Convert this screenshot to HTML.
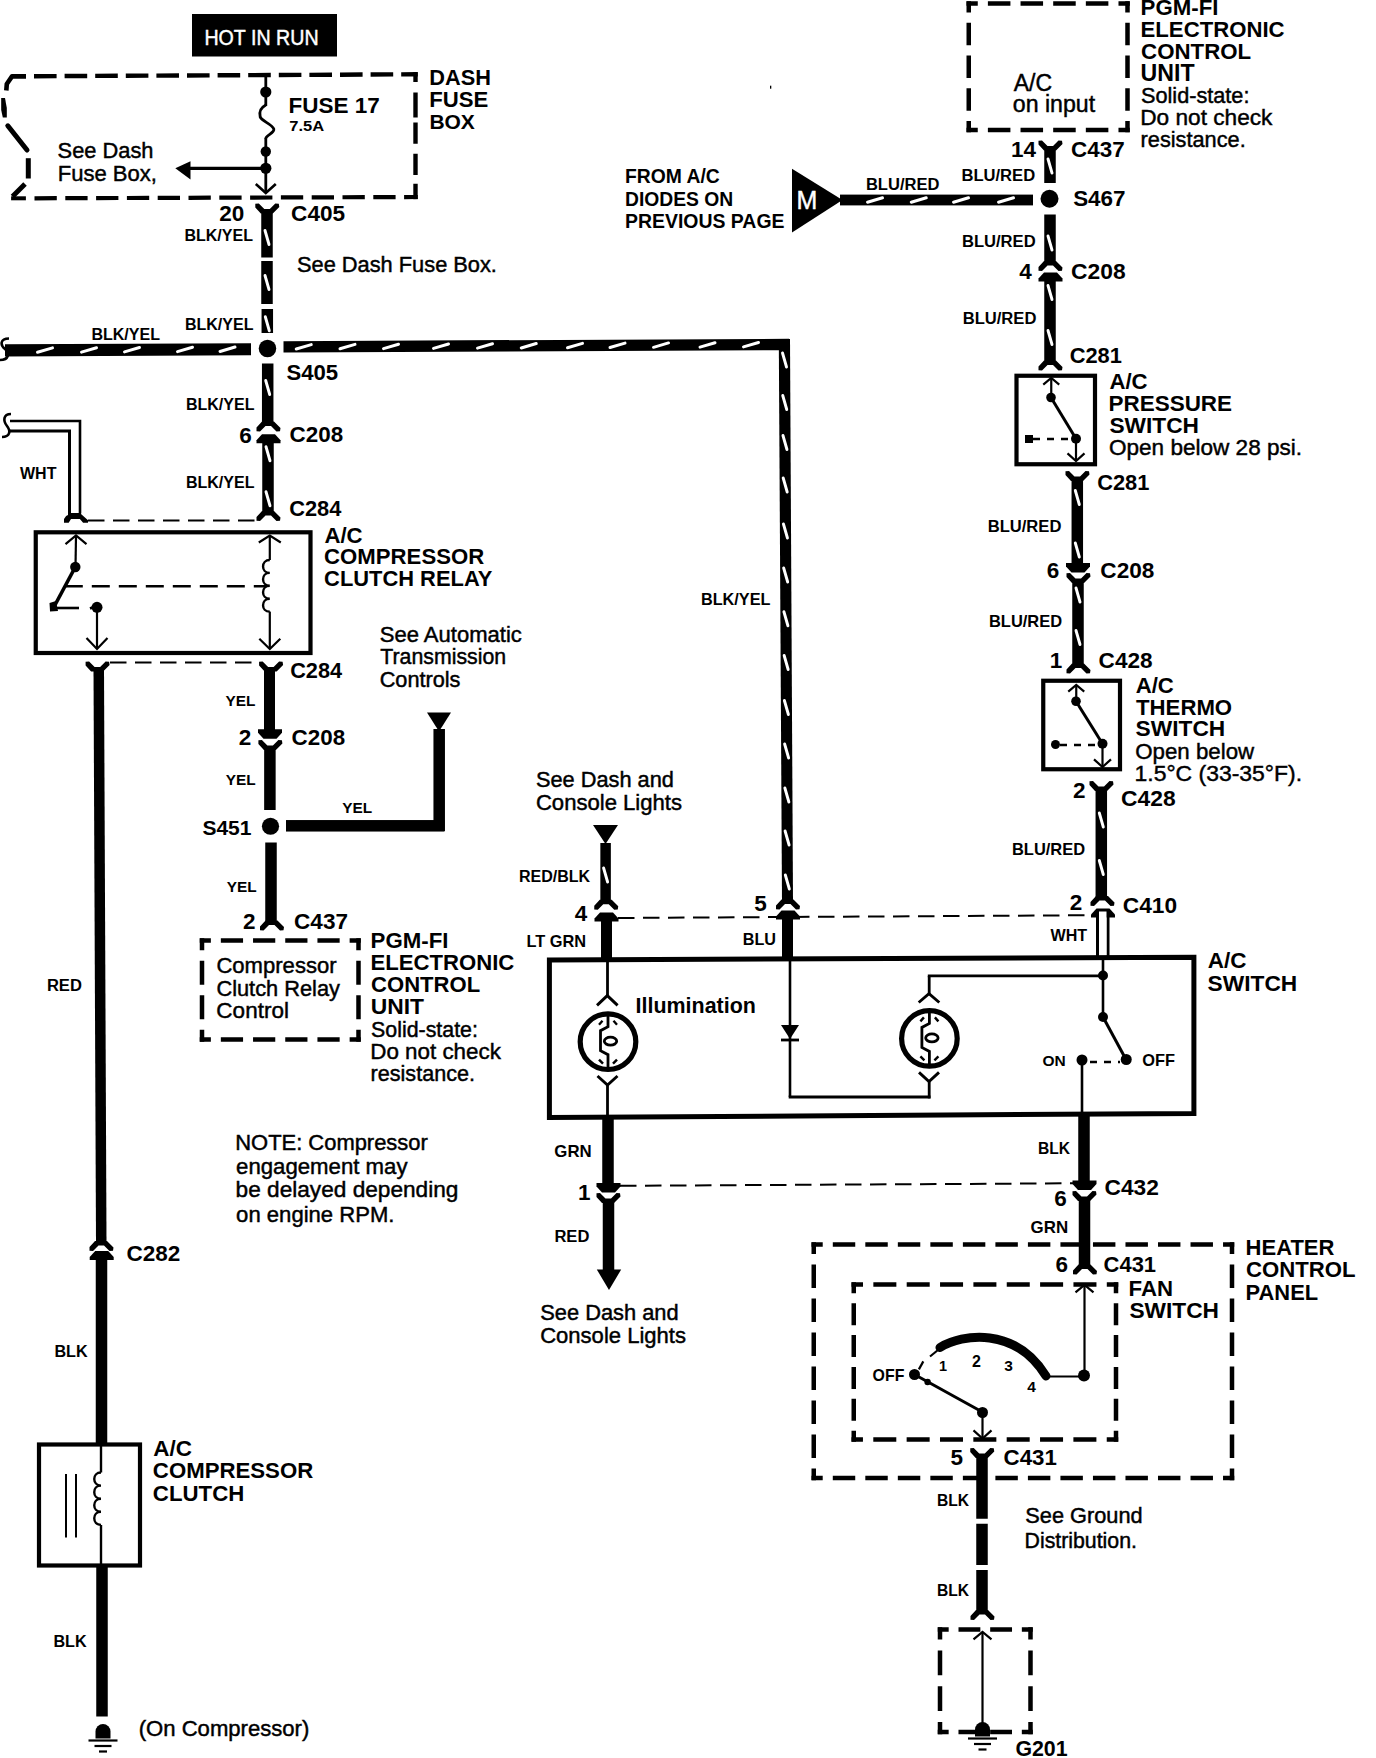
<!DOCTYPE html>
<html><head><meta charset="utf-8"><style>
html,body{margin:0;padding:0;background:#fff;}
body{width:1376px;height:1758px;overflow:hidden;}
svg{display:block;font-family:"Liberation Sans",sans-serif;}
</style></head><body>
<svg width="1376" height="1758" viewBox="0 0 1376 1758">
<rect width="1376" height="1758" fill="#fff"/>
<rect x="192" y="14" width="145" height="42.5" fill="#000"/>
<text x="204.43" y="45.3" font-size="21.98" font-weight="normal" fill="#fff" textLength="114.14" lengthAdjust="spacingAndGlyphs" stroke="#fff" stroke-width="0.45">HOT IN RUN</text>
<line x1="34" y1="76.2" x2="417.75" y2="74.3" stroke="#000" stroke-width="4.4" stroke-dasharray="22.6 8"/>
<line x1="415.5" y1="72.2" x2="415.5" y2="82" stroke="#000" stroke-width="4.4"/>
<line x1="415.5" y1="92.5" x2="415.5" y2="117.5" stroke="#000" stroke-width="4.4"/>
<line x1="415.5" y1="122.5" x2="415.5" y2="143.75" stroke="#000" stroke-width="4.4"/>
<line x1="415.5" y1="153.75" x2="415.5" y2="175" stroke="#000" stroke-width="4.4"/>
<line x1="415.5" y1="183.75" x2="415.5" y2="199.2" stroke="#000" stroke-width="4.4"/>
<line x1="34.5" y1="198.3" x2="417.75" y2="197" stroke="#000" stroke-width="4.2" stroke-dasharray="22.3 8.5"/>
<path d="M6.3 90.5 L6.8 84 L12 76.4 L26 76.4" fill="none" stroke="#000" stroke-width="4.6" stroke-linejoin="round"/>
<polygon points="1.2,98 5,98 6.8,108 6.8,117.5 2.8,117.5 1.2,110" fill="#000"/>
<line x1="7.8" y1="125.8" x2="27" y2="150" stroke="#000" stroke-width="5" stroke-linecap="round"/>
<line x1="28.3" y1="158.2" x2="28.3" y2="178.5" stroke="#000" stroke-width="5"/>
<path d="M25 184 L12.5 196.5" fill="none" stroke="#000" stroke-width="5"/>
<rect x="11.1" y="196.3" width="14.8" height="4" fill="#000"/>
<line x1="265.8" y1="76" x2="265.8" y2="106" stroke="#000" stroke-width="2.8"/>
<path d="M265.8 105 C260 108 259 112 260.2 117 C261.5 121 272 124 273.8 129 C274.8 133 266 135 265.8 138.5" fill="none" stroke="#000" stroke-width="2.8"/>
<line x1="265.8" y1="138" x2="265.8" y2="193" stroke="#000" stroke-width="2.8"/>
<circle cx="265.8" cy="92" r="5.6" fill="#000"/>
<circle cx="265.8" cy="151.5" r="5.2" fill="#000"/>
<circle cx="265.8" cy="168.3" r="5.6" fill="#000"/>
<line x1="265.8" y1="168.3" x2="189" y2="168.3" stroke="#000" stroke-width="3.2"/>
<polygon points="175.3,168.3 190.5,161.2 190.5,179.5" fill="#000"/>
<path d="M255.8 184 L265.8 193 L275.8 184" fill="none" stroke="#000" stroke-width="2.6"/>
<text x="288.54" y="112.8" font-size="22.48" font-weight="bold" fill="#000" textLength="91.22" lengthAdjust="spacingAndGlyphs">FUSE 17</text>
<text x="289.3" y="131.3" font-size="14.85" font-weight="bold" fill="#000" textLength="34.86" lengthAdjust="spacingAndGlyphs">7.5A</text>
<text x="429.34" y="85.3" font-size="21.74" font-weight="bold" fill="#000" textLength="61.6" lengthAdjust="spacingAndGlyphs">DASH</text>
<text x="429.31" y="107.05" font-size="22.12" font-weight="bold" fill="#000" textLength="59.01" lengthAdjust="spacingAndGlyphs">FUSE</text>
<text x="429.38" y="128.8" font-size="21" font-weight="bold" fill="#000" textLength="45.51" lengthAdjust="spacingAndGlyphs">BOX</text>
<text x="57.62" y="157.8" font-size="21.83" font-weight="normal" fill="#000" textLength="95.88" lengthAdjust="spacingAndGlyphs" stroke="#000" stroke-width="0.45">See Dash</text>
<text x="57.74" y="181.3" font-size="22.03" font-weight="normal" fill="#000" textLength="99.18" lengthAdjust="spacingAndGlyphs" stroke="#000" stroke-width="0.45">Fuse Box,</text>
<polygon points="260.8,213.5 255.3,207.5 255.3,203.7 258.8,203.5 264.3,209 269.8,209 275.3,203.5 278.8,203.7 279.3,207 272.8,213.5" fill="#000"/>
<text x="219.27" y="220.8" font-size="22.5" font-weight="bold" fill="#000">20</text>
<text x="291.1" y="220.8" font-size="22.58" font-weight="bold" fill="#000" textLength="53.98" lengthAdjust="spacingAndGlyphs">C405</text>
<rect x="261.25" y="212" width="11.5" height="45.5" fill="#000"/>
<line x1="265" y1="230.5" x2="269" y2="244.5" stroke="#fff" stroke-width="2.9" stroke-linecap="round"/>
<rect x="261.25" y="261" width="11.5" height="43" fill="#000"/>
<line x1="265" y1="275.5" x2="269" y2="289.5" stroke="#fff" stroke-width="2.9" stroke-linecap="round"/>
<rect x="261.55" y="309" width="11.5" height="24" fill="#000"/>
<line x1="265.3" y1="316.75" x2="269.3" y2="330.75" stroke="#fff" stroke-width="2.9" stroke-linecap="round"/>
<circle cx="267.5" cy="348.5" r="8.75" fill="#000"/>
<rect x="261.95" y="363.5" width="11.5" height="59.5" fill="#000"/>
<line x1="265.7" y1="380.5" x2="269.7" y2="394.5" stroke="#fff" stroke-width="2.9" stroke-linecap="round"/>
<text x="184.46" y="240.8" font-size="16.01" font-weight="bold" fill="#000" textLength="68.49" lengthAdjust="spacingAndGlyphs">BLK/YEL</text>
<text x="184.96" y="330.3" font-size="16.01" font-weight="bold" fill="#000" textLength="68.49" lengthAdjust="spacingAndGlyphs">BLK/YEL</text>
<text x="185.96" y="409.55" font-size="16.01" font-weight="bold" fill="#000" textLength="68.49" lengthAdjust="spacingAndGlyphs">BLK/YEL</text>
<text x="297.02" y="271.55" font-size="21.8" font-weight="normal" fill="#000" textLength="199.92" lengthAdjust="spacingAndGlyphs" stroke="#000" stroke-width="0.45">See Dash Fuse Box.</text>
<text x="286.39" y="379.55" font-size="22.12" font-weight="bold" fill="#000" textLength="51.67" lengthAdjust="spacingAndGlyphs">S405</text>
<polygon points="5,344.3 251,343.2 251,355.2 5,356.4" fill="#000"/>
<polygon points="283.5,341.2 789,338.8 789,350.2 283.5,352.6" fill="#000"/>
<line x1="37.5" y1="352.31" x2="52.5" y2="347.91" stroke="#fff" stroke-width="3" stroke-linecap="round"/>
<line x1="81.5" y1="352.11" x2="96.5" y2="347.71" stroke="#fff" stroke-width="3" stroke-linecap="round"/>
<line x1="124.5" y1="351.9" x2="139.5" y2="347.5" stroke="#fff" stroke-width="3" stroke-linecap="round"/>
<line x1="177.5" y1="351.65" x2="192.5" y2="347.25" stroke="#fff" stroke-width="3" stroke-linecap="round"/>
<line x1="220" y1="351.45" x2="235" y2="347.05" stroke="#fff" stroke-width="3" stroke-linecap="round"/>
<line x1="296.25" y1="349" x2="311.25" y2="344.6" stroke="#fff" stroke-width="3" stroke-linecap="round"/>
<line x1="340" y1="348.8" x2="355" y2="344.4" stroke="#fff" stroke-width="3" stroke-linecap="round"/>
<line x1="383.5" y1="348.59" x2="398.5" y2="344.19" stroke="#fff" stroke-width="3" stroke-linecap="round"/>
<line x1="433.5" y1="348.36" x2="448.5" y2="343.96" stroke="#fff" stroke-width="3" stroke-linecap="round"/>
<line x1="477.5" y1="348.15" x2="492.5" y2="343.75" stroke="#fff" stroke-width="3" stroke-linecap="round"/>
<line x1="521.25" y1="347.95" x2="536.25" y2="343.55" stroke="#fff" stroke-width="3" stroke-linecap="round"/>
<line x1="567.5" y1="347.73" x2="582.5" y2="343.33" stroke="#fff" stroke-width="3" stroke-linecap="round"/>
<line x1="610" y1="347.53" x2="625" y2="343.13" stroke="#fff" stroke-width="3" stroke-linecap="round"/>
<line x1="653.5" y1="347.33" x2="668.5" y2="342.93" stroke="#fff" stroke-width="3" stroke-linecap="round"/>
<line x1="700" y1="347.11" x2="715" y2="342.71" stroke="#fff" stroke-width="3" stroke-linecap="round"/>
<line x1="743.5" y1="346.9" x2="758.5" y2="342.5" stroke="#fff" stroke-width="3" stroke-linecap="round"/>
<path d="M9 338.5 C0 338.5 0 345 5 349 C10 353 9 360 0 360" fill="none" stroke="#000" stroke-width="2.6"/>
<text x="91.46" y="339.55" font-size="16.01" font-weight="bold" fill="#000" textLength="68.49" lengthAdjust="spacingAndGlyphs">BLK/YEL</text>
<polygon points="778.8,339 790,339 793,901 782,901" fill="#000"/>
<line x1="782.51" y1="353" x2="786.51" y2="367" stroke="#fff" stroke-width="2.9" stroke-linecap="round"/>
<line x1="782.74" y1="395.5" x2="786.74" y2="409.5" stroke="#fff" stroke-width="2.9" stroke-linecap="round"/>
<line x1="782.96" y1="435.5" x2="786.96" y2="449.5" stroke="#fff" stroke-width="2.9" stroke-linecap="round"/>
<line x1="783.19" y1="478" x2="787.19" y2="492" stroke="#fff" stroke-width="2.9" stroke-linecap="round"/>
<line x1="783.44" y1="524" x2="787.44" y2="538" stroke="#fff" stroke-width="2.9" stroke-linecap="round"/>
<line x1="783.67" y1="568" x2="787.67" y2="582" stroke="#fff" stroke-width="2.9" stroke-linecap="round"/>
<line x1="783.91" y1="611.75" x2="787.91" y2="625.75" stroke="#fff" stroke-width="2.9" stroke-linecap="round"/>
<line x1="784.15" y1="655.5" x2="788.15" y2="669.5" stroke="#fff" stroke-width="2.9" stroke-linecap="round"/>
<line x1="784.39" y1="700.5" x2="788.39" y2="714.5" stroke="#fff" stroke-width="2.9" stroke-linecap="round"/>
<line x1="784.62" y1="744" x2="788.62" y2="758" stroke="#fff" stroke-width="2.9" stroke-linecap="round"/>
<line x1="784.86" y1="788" x2="788.86" y2="802" stroke="#fff" stroke-width="2.9" stroke-linecap="round"/>
<line x1="785.09" y1="831" x2="789.09" y2="845" stroke="#fff" stroke-width="2.9" stroke-linecap="round"/>
<line x1="785.33" y1="875" x2="789.33" y2="889" stroke="#fff" stroke-width="2.9" stroke-linecap="round"/>
<text x="700.94" y="605.3" font-size="16.25" font-weight="bold" fill="#000" textLength="69.51" lengthAdjust="spacingAndGlyphs">BLK/YEL</text>
<polygon points="262,421.5 256.5,427.5 256.5,431.3 260,431.5 265.5,426 271,426 276.5,431.5 280,431.3 280.5,428 274,421.5" fill="#000"/>
<polygon points="262,434.3 275,434.3 280.5,440.3 280.5,443.3 256.5,443.3 256.5,440.3" fill="#000"/>
<text x="239.21" y="442.8" font-size="22.5" font-weight="bold" fill="#000">6</text>
<text x="289.6" y="442.05" font-size="22.39" font-weight="bold" fill="#000" textLength="53.53" lengthAdjust="spacingAndGlyphs">C208</text>
<rect x="262.25" y="442" width="11.5" height="70.5" fill="#000"/>
<line x1="266" y1="446.75" x2="270" y2="460.75" stroke="#fff" stroke-width="2.9" stroke-linecap="round"/>
<line x1="266" y1="491.75" x2="270" y2="505.75" stroke="#fff" stroke-width="2.9" stroke-linecap="round"/>
<polygon points="262,511 256.5,517 256.5,520.8 260,521 265.5,515.5 271,515.5 276.5,521 280,520.8 280.5,517.5 274,511" fill="#000"/>
<text x="185.96" y="488.3" font-size="16.01" font-weight="bold" fill="#000" textLength="68.49" lengthAdjust="spacingAndGlyphs">BLK/YEL</text>
<text x="289.13" y="516.3" font-size="21.83" font-weight="bold" fill="#000" textLength="52.19" lengthAdjust="spacingAndGlyphs">C284</text>
<path d="M10 421 L80 421 L80 513.5" fill="none" stroke="#000" stroke-width="2.6" stroke-linejoin="miter"/>
<path d="M10 431 L69.5 431 L69.5 513.5" fill="none" stroke="#000" stroke-width="3" stroke-linejoin="miter"/>
<path d="M11 414 C3 414 3 421 7 426 C11 431 10 437 2 437" fill="none" stroke="#000" stroke-width="2.6"/>
<polygon points="68,513 81,513 81,514 88,520.2 88,522.8 83.1,522.8 79.9,519 71,519 68.7,522.8 64,522.8 64,519 66.1,515.9 68,515" fill="#000"/>
<text x="20" y="478.8" font-size="15.99" font-weight="bold" fill="#000" textLength="36.4" lengthAdjust="spacingAndGlyphs">WHT</text>
<line x1="88" y1="520.5" x2="258" y2="520.5" stroke="#000" stroke-width="2" stroke-dasharray="16.5 8.5" stroke-dashoffset="0"/>
<rect x="35.75" y="532.3" width="274.75" height="120.7" fill="none" stroke="#000" stroke-width="4.2"/>
<line x1="76" y1="536" x2="75.5" y2="567" stroke="#000" stroke-width="2.2"/>
<path d="M65.5 544.1 L76 535.5 L86.5 544.1" fill="none" stroke="#000" stroke-width="2.2"/>
<circle cx="75.3" cy="567" r="5.2" fill="#000"/>
<line x1="75.3" y1="567" x2="55" y2="605" stroke="#000" stroke-width="3.6"/>
<polygon points="49.5,603 56,601 58,611 50,611.5" fill="#000"/>
<line x1="57" y1="608" x2="79" y2="608" stroke="#000" stroke-width="2.6"/>
<circle cx="97" cy="607.3" r="5.5" fill="#000"/>
<line x1="90" y1="608.5" x2="96" y2="606" stroke="#000" stroke-width="2.6"/>
<line x1="97" y1="607" x2="97" y2="649" stroke="#000" stroke-width="2.2"/>
<path d="M86.5 638 L97 649 L107.5 638" fill="none" stroke="#000" stroke-width="2.2"/>
<line x1="64.8" y1="586.3" x2="266.3" y2="586.3" stroke="#000" stroke-width="2.6" stroke-dasharray="18 9" stroke-dashoffset="0"/>
<line x1="269.8" y1="536" x2="269.8" y2="560" stroke="#000" stroke-width="2.2"/>
<path d="M269.8 560 C260.8 560 260.8 572.9 269.8 572.9 C260.8 572.9 260.8 585.8 269.8 585.8 C260.8 585.8 260.8 598.7 269.8 598.7 C260.8 598.7 260.8 611.6 269.8 611.6" fill="none" stroke="#000" stroke-width="2.4"/>
<line x1="269.8" y1="611.6" x2="269.8" y2="649" stroke="#000" stroke-width="2.2"/>
<path d="M258.8 542.5 L269.8 535.5 L280.8 542.5" fill="none" stroke="#000" stroke-width="2.2"/>
<path d="M259.3 638.7 L269.8 649 L280.3 638.7" fill="none" stroke="#000" stroke-width="2.2"/>
<text x="324.45" y="542.8" font-size="22.16" font-weight="bold" fill="#000" textLength="38.16" lengthAdjust="spacingAndGlyphs">A/C</text>
<text x="324.11" y="564.3" font-size="22.16" font-weight="bold" fill="#000" textLength="160.1" lengthAdjust="spacingAndGlyphs">COMPRESSOR</text>
<text x="324.12" y="585.8" font-size="21.88" font-weight="bold" fill="#000" textLength="168.16" lengthAdjust="spacingAndGlyphs">CLUTCH RELAY</text>
<polygon points="91.1,671.5 85.6,665.5 85.6,661.7 89.1,661.5 94.6,667 100.1,667 105.6,661.5 109.1,661.7 109.6,665 103.1,671.5" fill="#000"/>
<polygon points="264.6,671.5 259.1,665.5 259.1,661.7 262.6,661.5 268.1,667 273.6,667 279.1,661.5 282.6,661.7 283.1,665 276.6,671.5" fill="#000"/>
<line x1="110" y1="662.5" x2="257" y2="662.5" stroke="#000" stroke-width="2" stroke-dasharray="16.5 8.5" stroke-dashoffset="0"/>
<text x="290.13" y="678.3" font-size="21.73" font-weight="bold" fill="#000" textLength="51.94" lengthAdjust="spacingAndGlyphs">C284</text>
<polygon points="93.5,669 104,669 106.5,1242 96,1242" fill="#000"/>
<text x="46.92" y="990.8" font-size="16.56" font-weight="bold" fill="#000" textLength="34.97" lengthAdjust="spacingAndGlyphs">RED</text>
<rect x="264" y="669" width="11" height="61" fill="#000"/>
<polygon points="263.5,738.8 276.5,738.8 282,732.8 282,729.3 258,729.3 258,732.8" fill="#000"/>
<polygon points="263.9,750 258.4,744 258.4,740.2 261.9,740 267.4,745.5 272.9,745.5 278.4,740 281.9,740.2 282.4,743.5 275.9,750" fill="#000"/>
<rect x="264.15" y="749" width="11.5" height="61" fill="#000"/>
<circle cx="270.5" cy="826.25" r="8.6" fill="#000"/>
<rect x="265.25" y="842.5" width="11.5" height="78.5" fill="#000"/>
<polygon points="265.5,920.5 260,926.5 260,930.3 263.5,930.5 269,925 274.5,925 280,930.5 283.5,930.3 284,927 277.5,920.5" fill="#000"/>
<text x="225.52" y="705.8" font-size="15.37" font-weight="bold" fill="#000" textLength="29.9" lengthAdjust="spacingAndGlyphs">YEL</text>
<text x="238.77" y="744.55" font-size="22.5" font-weight="bold" fill="#000">2</text>
<text x="291.6" y="744.55" font-size="22.39" font-weight="bold" fill="#000" textLength="53.53" lengthAdjust="spacingAndGlyphs">C208</text>
<text x="225.77" y="785.3" font-size="15.37" font-weight="bold" fill="#000" textLength="29.9" lengthAdjust="spacingAndGlyphs">YEL</text>
<text x="202.42" y="835.3" font-size="21.03" font-weight="bold" fill="#000" textLength="49.11" lengthAdjust="spacingAndGlyphs">S451</text>
<text x="226.77" y="891.8" font-size="15.37" font-weight="bold" fill="#000" textLength="29.9" lengthAdjust="spacingAndGlyphs">YEL</text>
<text x="243.02" y="928.8" font-size="22.5" font-weight="bold" fill="#000">2</text>
<text x="294.1" y="928.8" font-size="22.54" font-weight="bold" fill="#000" textLength="53.87" lengthAdjust="spacingAndGlyphs">C437</text>
<rect x="286" y="820.05" width="158.5" height="11.5" fill="#000"/>
<rect x="433.45" y="729" width="11.5" height="102" fill="#000"/>
<polygon points="427,712.5 451,712.5 439,731.5" fill="#000"/>
<text x="342.27" y="812.8" font-size="15.37" font-weight="bold" fill="#000" textLength="29.9" lengthAdjust="spacingAndGlyphs">YEL</text>
<text x="379.76" y="642.05" font-size="22.03" font-weight="normal" fill="#000" textLength="142.06" lengthAdjust="spacingAndGlyphs" stroke="#000" stroke-width="0.45">See Automatic</text>
<text x="380.32" y="664.3" font-size="21.29" font-weight="normal" fill="#000" textLength="125.78" lengthAdjust="spacingAndGlyphs" stroke="#000" stroke-width="0.45">Transmission</text>
<text x="379.66" y="686.55" font-size="21.7" font-weight="normal" fill="#000" textLength="80.82" lengthAdjust="spacingAndGlyphs" stroke="#000" stroke-width="0.45">Controls</text>
<line x1="199.75" y1="940.5" x2="360.75" y2="940.5" stroke="#000" stroke-width="4.5" stroke-dasharray="22.22 9.98" stroke-dashoffset="11.11"/>
<line x1="358.5" y1="938.25" x2="358.5" y2="1041.75" stroke="#000" stroke-width="4.5" stroke-dasharray="23.8 10.7" stroke-dashoffset="11.9"/>
<line x1="360.75" y1="1039.5" x2="199.75" y2="1039.5" stroke="#000" stroke-width="4.5" stroke-dasharray="22.22 9.98" stroke-dashoffset="11.11"/>
<line x1="202" y1="1041.75" x2="202" y2="938.25" stroke="#000" stroke-width="4.5" stroke-dasharray="23.8 10.7" stroke-dashoffset="11.9"/>
<text x="216.4" y="973.3" font-size="22.07" font-weight="normal" fill="#000" textLength="120.2" lengthAdjust="spacingAndGlyphs" stroke="#000" stroke-width="0.45">Compressor</text>
<text x="216.41" y="995.55" font-size="21.8" font-weight="normal" fill="#000" textLength="123.57" lengthAdjust="spacingAndGlyphs" stroke="#000" stroke-width="0.45">Clutch Relay</text>
<text x="216.37" y="1017.8" font-size="22.51" font-weight="normal" fill="#000" textLength="72.56" lengthAdjust="spacingAndGlyphs" stroke="#000" stroke-width="0.45">Control</text>
<text x="370.55" y="948.3" font-size="22.26" font-weight="bold" fill="#000" textLength="77.88" lengthAdjust="spacingAndGlyphs">PGM-FI</text>
<text x="370.56" y="970.15" font-size="22.12" font-weight="bold" fill="#000" textLength="143.8" lengthAdjust="spacingAndGlyphs">ELECTRONIC</text>
<text x="371.12" y="992" font-size="22.05" font-weight="bold" fill="#000" textLength="109.02" lengthAdjust="spacingAndGlyphs">CONTROL</text>
<text x="370.63" y="1013.85" font-size="22.85" font-weight="bold" fill="#000" textLength="53.31" lengthAdjust="spacingAndGlyphs">UNIT</text>
<text x="371.04" y="1036.8" font-size="21.37" font-weight="normal" fill="#000" textLength="106.89" lengthAdjust="spacingAndGlyphs" stroke="#000" stroke-width="0.45">Solid-state:</text>
<text x="370.21" y="1058.8" font-size="22.4" font-weight="normal" fill="#000" textLength="130.72" lengthAdjust="spacingAndGlyphs" stroke="#000" stroke-width="0.45">Do not check</text>
<text x="370.6" y="1080.8" font-size="21.58" font-weight="normal" fill="#000" textLength="104.36" lengthAdjust="spacingAndGlyphs" stroke="#000" stroke-width="0.45">resistance.</text>
<text x="235.25" y="1149.55" font-size="21.93" font-weight="normal" fill="#000" textLength="192.57" lengthAdjust="spacingAndGlyphs" stroke="#000" stroke-width="0.45">NOTE: Compressor</text>
<text x="236.06" y="1173.8" font-size="22.19" font-weight="normal" fill="#000" textLength="171.44" lengthAdjust="spacingAndGlyphs" stroke="#000" stroke-width="0.45">engagement may</text>
<text x="235.59" y="1197.05" font-size="22.64" font-weight="normal" fill="#000" textLength="222.83" lengthAdjust="spacingAndGlyphs" stroke="#000" stroke-width="0.45">be delayed depending</text>
<text x="236.12" y="1222.05" font-size="22.09" font-weight="normal" fill="#000" textLength="158.4" lengthAdjust="spacingAndGlyphs" stroke="#000" stroke-width="0.45">on engine RPM.</text>
<polygon points="95,1241 89.5,1247 89.5,1250.8 93,1251 98.5,1245.5 104,1245.5 109.5,1251 113,1250.8 113.5,1247.5 107,1241" fill="#000"/>
<polygon points="95.2,1251 108.2,1251 113.7,1257 113.7,1260 89.7,1260 89.7,1257" fill="#000"/>
<text x="126.6" y="1261.3" font-size="22.49" font-weight="bold" fill="#000" textLength="53.76" lengthAdjust="spacingAndGlyphs">C282</text>
<rect x="95.75" y="1259" width="11.5" height="185" fill="#000"/>
<text x="54.45" y="1356.8" font-size="16.14" font-weight="bold" fill="#000" textLength="33.17" lengthAdjust="spacingAndGlyphs">BLK</text>
<rect x="39" y="1444.5" width="101" height="121" fill="none" stroke="#000" stroke-width="4.2"/>
<line x1="101" y1="1446" x2="101" y2="1472.5" stroke="#000" stroke-width="2.4"/>
<path d="M101 1472.5 C92 1472.5 92 1485.6 101 1485.6 C92 1485.6 92 1498.7 101 1498.7 C92 1498.7 92 1511.8 101 1511.8 C92 1511.8 92 1524.9 101 1524.9" fill="none" stroke="#000" stroke-width="2.4"/>
<line x1="101" y1="1525" x2="101" y2="1565" stroke="#000" stroke-width="2.4"/>
<line x1="66" y1="1474" x2="66" y2="1537.5" stroke="#000" stroke-width="2"/>
<line x1="76" y1="1474" x2="76" y2="1537.5" stroke="#000" stroke-width="2"/>
<text x="153.19" y="1455.8" font-size="22.46" font-weight="bold" fill="#000" textLength="38.67" lengthAdjust="spacingAndGlyphs">A/C</text>
<text x="152.86" y="1478.3" font-size="22.2" font-weight="bold" fill="#000" textLength="160.35" lengthAdjust="spacingAndGlyphs">COMPRESSOR</text>
<text x="152.86" y="1500.8" font-size="22.24" font-weight="bold" fill="#000" textLength="91.4" lengthAdjust="spacingAndGlyphs">CLUTCH</text>
<rect x="96.25" y="1566" width="11.5" height="150.5" fill="#000"/>
<text x="53.45" y="1646.8" font-size="16.14" font-weight="bold" fill="#000" textLength="33.17" lengthAdjust="spacingAndGlyphs">BLK</text>
<path d="M95.5 1731.5 a7.5 7.5 0 0 1 15 0 v7 h-15 z" fill="#000"/>
<line x1="88.5" y1="1740.5" x2="117.5" y2="1740.5" stroke="#000" stroke-width="2.2"/>
<line x1="94.5" y1="1746" x2="111.5" y2="1746" stroke="#000" stroke-width="2.2"/>
<line x1="99" y1="1751.5" x2="107" y2="1751.5" stroke="#000" stroke-width="2.2"/>
<text x="138.67" y="1735.8" font-size="22.1" font-weight="normal" fill="#000" textLength="170.68" lengthAdjust="spacingAndGlyphs" stroke="#000" stroke-width="0.45">(On Compressor)</text>
<text x="624.99" y="183.3" font-size="19.31" font-weight="bold" fill="#000" textLength="94.77" lengthAdjust="spacingAndGlyphs">FROM A/C</text>
<text x="625" y="205.8" font-size="19.3" font-weight="bold" fill="#000" textLength="108.3" lengthAdjust="spacingAndGlyphs">DIODES ON</text>
<text x="624.99" y="228.3" font-size="19.44" font-weight="bold" fill="#000" textLength="159.51" lengthAdjust="spacingAndGlyphs">PREVIOUS PAGE</text>
<polygon points="792,168.75 792,232.5 842.5,200" fill="#000"/>
<text x="796.5" y="209.3" font-size="25" font-weight="normal" fill="#fff" stroke="#fff" stroke-width="0.45">M</text>
<rect x="840" y="194.6" width="193" height="10.8" fill="#000"/>
<line x1="867.5" y1="202.2" x2="882.5" y2="197.8" stroke="#fff" stroke-width="3" stroke-linecap="round"/>
<line x1="911.25" y1="202.2" x2="926.25" y2="197.8" stroke="#fff" stroke-width="3" stroke-linecap="round"/>
<line x1="953.5" y1="202.2" x2="968.5" y2="197.8" stroke="#fff" stroke-width="3" stroke-linecap="round"/>
<line x1="998.5" y1="202.2" x2="1013.5" y2="197.8" stroke="#fff" stroke-width="3" stroke-linecap="round"/>
<text x="865.93" y="189.55" font-size="16.53" font-weight="bold" fill="#000" textLength="73.48" lengthAdjust="spacingAndGlyphs">BLU/RED</text>
<line x1="966.5" y1="3.5" x2="1129.75" y2="3.5" stroke="#000" stroke-width="4.5" stroke-dasharray="22.53 10.12" stroke-dashoffset="11.26"/>
<line x1="1127.5" y1="1.25" x2="1127.5" y2="132.25" stroke="#000" stroke-width="4.5" stroke-dasharray="22.6 10.15" stroke-dashoffset="11.3"/>
<line x1="1129.75" y1="130" x2="966.5" y2="130" stroke="#000" stroke-width="4.5" stroke-dasharray="22.53 10.12" stroke-dashoffset="11.26"/>
<line x1="968.75" y1="132.25" x2="968.75" y2="1.25" stroke="#000" stroke-width="4.5" stroke-dasharray="22.6 10.15" stroke-dashoffset="11.3"/>
<text x="1013.75" y="90.8" font-size="23.01" font-weight="normal" fill="#000" textLength="38.35" lengthAdjust="spacingAndGlyphs" stroke="#000" stroke-width="0.45">A/C</text>
<text x="1012.82" y="112.05" font-size="23.13" font-weight="normal" fill="#000" textLength="82.32" lengthAdjust="spacingAndGlyphs" stroke="#000" stroke-width="0.45">on input</text>
<text x="1140.55" y="14.55" font-size="22.26" font-weight="bold" fill="#000" textLength="77.88" lengthAdjust="spacingAndGlyphs">PGM-FI</text>
<text x="1140.56" y="36.8" font-size="22.16" font-weight="bold" fill="#000" textLength="144.05" lengthAdjust="spacingAndGlyphs">ELECTRONIC</text>
<text x="1141.11" y="59.05" font-size="22.26" font-weight="bold" fill="#000" textLength="110.04" lengthAdjust="spacingAndGlyphs">CONTROL</text>
<text x="1140.61" y="81.3" font-size="23.18" font-weight="bold" fill="#000" textLength="54.08" lengthAdjust="spacingAndGlyphs">UNIT</text>
<text x="1141.02" y="103.3" font-size="21.67" font-weight="normal" fill="#000" textLength="108.43" lengthAdjust="spacingAndGlyphs" stroke="#000" stroke-width="0.45">Solid-state:</text>
<text x="1140.19" y="125.2" font-size="22.66" font-weight="normal" fill="#000" textLength="132.24" lengthAdjust="spacingAndGlyphs" stroke="#000" stroke-width="0.45">Do not check</text>
<text x="1140.59" y="147.1" font-size="21.74" font-weight="normal" fill="#000" textLength="105.13" lengthAdjust="spacingAndGlyphs" stroke="#000" stroke-width="0.45">resistance.</text>
<polygon points="1044,150.5 1038.5,144.5 1038.5,140.7 1042,140.5 1047.5,146 1053,146 1058.5,140.5 1062,140.7 1062.5,144 1056,150.5" fill="#000"/>
<text x="1011.09" y="157.05" font-size="22.5" font-weight="bold" fill="#000">14</text>
<text x="1071.1" y="157.05" font-size="22.43" font-weight="bold" fill="#000" textLength="53.62" lengthAdjust="spacingAndGlyphs">C437</text>
<rect x="1044.25" y="149" width="11.5" height="34" fill="#000"/>
<line x1="1048" y1="159" x2="1052" y2="173" stroke="#fff" stroke-width="2.9" stroke-linecap="round"/>
<circle cx="1049.5" cy="198.75" r="9" fill="#000"/>
<text x="1073.13" y="205.8" font-size="22.41" font-weight="bold" fill="#000" textLength="52.33" lengthAdjust="spacingAndGlyphs">S467</text>
<text x="961.42" y="180.8" font-size="16.59" font-weight="bold" fill="#000" textLength="73.73" lengthAdjust="spacingAndGlyphs">BLU/RED</text>
<rect x="1044.25" y="214.5" width="11.5" height="47.5" fill="#000"/>
<line x1="1048" y1="236" x2="1052" y2="250" stroke="#fff" stroke-width="2.9" stroke-linecap="round"/>
<polygon points="1044,261 1038.5,267 1038.5,270.8 1042,271 1047.5,265.5 1053,265.5 1058.5,271 1062,270.8 1062.5,267.5 1056,261" fill="#000"/>
<polygon points="1044,272.5 1057,272.5 1062.5,278.5 1062.5,281.5 1038.5,281.5 1038.5,278.5" fill="#000"/>
<text x="1019.16" y="278.8" font-size="22.5" font-weight="bold" fill="#000">4</text>
<text x="1071.09" y="278.8" font-size="22.82" font-weight="bold" fill="#000" textLength="54.56" lengthAdjust="spacingAndGlyphs">C208</text>
<text x="961.92" y="247.05" font-size="16.59" font-weight="bold" fill="#000" textLength="73.73" lengthAdjust="spacingAndGlyphs">BLU/RED</text>
<text x="962.67" y="323.8" font-size="16.59" font-weight="bold" fill="#000" textLength="73.73" lengthAdjust="spacingAndGlyphs">BLU/RED</text>
<rect x="1044.25" y="280" width="11.5" height="81.5" fill="#000"/>
<line x1="1048" y1="285.5" x2="1052" y2="299.5" stroke="#fff" stroke-width="2.9" stroke-linecap="round"/>
<line x1="1048" y1="330.5" x2="1052" y2="344.5" stroke="#fff" stroke-width="2.9" stroke-linecap="round"/>
<polygon points="1044,360.5 1038.5,366.5 1038.5,370.3 1042,370.5 1047.5,365 1053,365 1058.5,370.5 1062,370.3 1062.5,367 1056,360.5" fill="#000"/>
<text x="1069.63" y="362.8" font-size="21.83" font-weight="bold" fill="#000" textLength="52.18" lengthAdjust="spacingAndGlyphs">C281</text>
<rect x="1016.5" y="375.75" width="78.5" height="88.5" fill="none" stroke="#000" stroke-width="4.2"/>
<path d="M1043.25 384.56 L1051.25 378 L1059.25 384.56" fill="none" stroke="#000" stroke-width="2.2"/>
<line x1="1051.25" y1="378" x2="1051.25" y2="397.5" stroke="#000" stroke-width="2.2"/>
<circle cx="1051" cy="397.5" r="4.8" fill="#000"/>
<line x1="1051" y1="397.5" x2="1076" y2="438.75" stroke="#000" stroke-width="3"/>
<circle cx="1076" cy="438.75" r="5" fill="#000"/>
<rect x="1025" y="435" width="8" height="8" fill="#000"/>
<line x1="1033" y1="439" x2="1070" y2="439" stroke="#000" stroke-width="2.6" stroke-dasharray="7 7" stroke-dashoffset="0"/>
<line x1="1076" y1="439" x2="1076" y2="461" stroke="#000" stroke-width="2.2"/>
<path d="M1067.5 453.35 L1076 461 L1084.5 453.35" fill="none" stroke="#000" stroke-width="2.2"/>
<text x="1109.45" y="388.8" font-size="22.16" font-weight="bold" fill="#000" textLength="38.16" lengthAdjust="spacingAndGlyphs">A/C</text>
<text x="1108.54" y="410.8" font-size="22.45" font-weight="bold" fill="#000" textLength="123.53" lengthAdjust="spacingAndGlyphs">PRESSURE</text>
<text x="1109.38" y="432.8" font-size="22.73" font-weight="bold" fill="#000" textLength="89.64" lengthAdjust="spacingAndGlyphs">SWITCH</text>
<text x="1108.99" y="454.55" font-size="22.55" font-weight="normal" fill="#000" textLength="193.08" lengthAdjust="spacingAndGlyphs" stroke="#000" stroke-width="0.45">Open below 28 psi.</text>
<polygon points="1071,481 1065.5,475 1065.5,471.2 1069,471 1074.5,476.5 1080,476.5 1085.5,471 1089,471.2 1089.5,474.5 1083,481" fill="#000"/>
<text x="1097.13" y="490.3" font-size="21.83" font-weight="bold" fill="#000" textLength="52.18" lengthAdjust="spacingAndGlyphs">C281</text>
<rect x="1071.55" y="479" width="11.5" height="85" fill="#000"/>
<line x1="1075.3" y1="490.5" x2="1079.3" y2="504.5" stroke="#fff" stroke-width="2.9" stroke-linecap="round"/>
<line x1="1075.3" y1="543" x2="1079.3" y2="557" stroke="#fff" stroke-width="2.9" stroke-linecap="round"/>
<polygon points="1071.5,572.5 1084.5,572.5 1090,566.5 1090,563 1066,563 1066,566.5" fill="#000"/>
<polygon points="1072,583 1066.5,577 1066.5,573.2 1070,573 1075.5,578.5 1081,578.5 1086.5,573 1090,573.2 1090.5,576.5 1084,583" fill="#000"/>
<text x="1046.71" y="578.3" font-size="22.5" font-weight="bold" fill="#000">6</text>
<text x="1100.35" y="578.3" font-size="22.6" font-weight="bold" fill="#000" textLength="54.04" lengthAdjust="spacingAndGlyphs">C208</text>
<text x="987.67" y="532.05" font-size="16.59" font-weight="bold" fill="#000" textLength="73.73" lengthAdjust="spacingAndGlyphs">BLU/RED</text>
<text x="988.93" y="627.05" font-size="16.47" font-weight="bold" fill="#000" textLength="73.22" lengthAdjust="spacingAndGlyphs">BLU/RED</text>
<rect x="1072.25" y="581" width="11.5" height="84" fill="#000"/>
<line x1="1076" y1="588" x2="1080" y2="602" stroke="#fff" stroke-width="2.9" stroke-linecap="round"/>
<line x1="1076" y1="630.5" x2="1080" y2="644.5" stroke="#fff" stroke-width="2.9" stroke-linecap="round"/>
<polygon points="1072,663.5 1066.5,669.5 1066.5,673.3 1070,673.5 1075.5,668 1081,668 1086.5,673.5 1090,673.3 1090.5,670 1084,663.5" fill="#000"/>
<text x="1049.84" y="668.3" font-size="22.5" font-weight="bold" fill="#000">1</text>
<text x="1098.6" y="668.3" font-size="22.6" font-weight="bold" fill="#000" textLength="54.04" lengthAdjust="spacingAndGlyphs">C428</text>
<rect x="1043.25" y="680.75" width="76.75" height="88.5" fill="none" stroke="#000" stroke-width="4.2"/>
<path d="M1068.25 691.56 L1076.25 685 L1084.25 691.56" fill="none" stroke="#000" stroke-width="2.2"/>
<line x1="1076.25" y1="685" x2="1076.25" y2="701.25" stroke="#000" stroke-width="2.2"/>
<circle cx="1076" cy="701.25" r="4.8" fill="#000"/>
<line x1="1076" y1="701.25" x2="1102.5" y2="743.75" stroke="#000" stroke-width="3"/>
<circle cx="1102.5" cy="743.75" r="5" fill="#000"/>
<circle cx="1055.5" cy="744.5" r="4.5" fill="#000"/>
<line x1="1060" y1="745" x2="1096" y2="745" stroke="#000" stroke-width="2.6" stroke-dasharray="7 7" stroke-dashoffset="0"/>
<line x1="1102.5" y1="744" x2="1102.5" y2="767" stroke="#000" stroke-width="2.2"/>
<path d="M1094 759.35 L1102.5 767 L1111 759.35" fill="none" stroke="#000" stroke-width="2.2"/>
<text x="1135.7" y="692.8" font-size="22.16" font-weight="bold" fill="#000" textLength="38.16" lengthAdjust="spacingAndGlyphs">A/C</text>
<text x="1136.03" y="714.55" font-size="22.18" font-weight="bold" fill="#000" textLength="96.12" lengthAdjust="spacingAndGlyphs">THERMO</text>
<text x="1135.62" y="736.3" font-size="22.73" font-weight="bold" fill="#000" textLength="89.64" lengthAdjust="spacingAndGlyphs">SWITCH</text>
<text x="1135.25" y="758.8" font-size="22.29" font-weight="normal" fill="#000" textLength="118.94" lengthAdjust="spacingAndGlyphs" stroke="#000" stroke-width="0.45">Open below</text>
<text x="1134.53" y="780.8" font-size="22.94" font-weight="normal" fill="#000" textLength="167.54" lengthAdjust="spacingAndGlyphs" stroke="#000" stroke-width="0.45">1.5°C (33-35°F).</text>
<polygon points="1095,791 1089.5,785 1089.5,781.2 1093,781 1098.5,786.5 1104,786.5 1109.5,781 1113,781.2 1113.5,784.5 1107,791" fill="#000"/>
<text x="1073.02" y="798.3" font-size="22.5" font-weight="bold" fill="#000">2</text>
<text x="1121.09" y="805.8" font-size="22.82" font-weight="bold" fill="#000" textLength="54.56" lengthAdjust="spacingAndGlyphs">C428</text>
<rect x="1095.55" y="789" width="11.5" height="108" fill="#000"/>
<line x1="1099.3" y1="813" x2="1103.3" y2="827" stroke="#fff" stroke-width="2.9" stroke-linecap="round"/>
<line x1="1099.3" y1="860.5" x2="1103.3" y2="874.5" stroke="#fff" stroke-width="2.9" stroke-linecap="round"/>
<polygon points="1096,896 1090.5,902 1090.5,905.8 1094,906 1099.5,900.5 1105,900.5 1110.5,906 1114,905.8 1114.5,902.5 1108,896" fill="#000"/>
<text x="1011.93" y="854.55" font-size="16.47" font-weight="bold" fill="#000" textLength="73.22" lengthAdjust="spacingAndGlyphs">BLU/RED</text>
<text x="1069.77" y="909.55" font-size="22.5" font-weight="bold" fill="#000">2</text>
<text x="1122.84" y="913.3" font-size="22.7" font-weight="bold" fill="#000" textLength="54.28" lengthAdjust="spacingAndGlyphs">C410</text>
<line x1="1097.5" y1="909.5" x2="1097.5" y2="957" stroke="#000" stroke-width="3"/>
<line x1="1108" y1="909.5" x2="1108" y2="957" stroke="#000" stroke-width="3"/>
<polygon points="1096.5,908.5 1109.5,908.5 1115,914.5 1115,917.5 1091,917.5 1091,914.5" fill="#000"/>
<rect x="1099" y="911.5" width="7.5" height="44" fill="#fff"/>
<text x="1050.5" y="940.8" font-size="16.1" font-weight="bold" fill="#000" textLength="36.65" lengthAdjust="spacingAndGlyphs">WHT</text>
<polygon points="593,825 618,825 605.5,844" fill="#000"/>
<rect x="600.35" y="843" width="10.5" height="58" fill="#000"/>
<line x1="603.6" y1="868" x2="607.6" y2="882" stroke="#fff" stroke-width="2.9" stroke-linecap="round"/>
<polygon points="599.75,899.8 594.25,905.8 594.25,909.6 597.75,909.8 603.25,904.3 608.75,904.3 614.25,909.8 617.75,909.6 618.25,906.3 611.75,899.8" fill="#000"/>
<polygon points="600,912.5 613,912.5 618.5,918.5 618.5,921.5 594.5,921.5 594.5,918.5" fill="#000"/>
<rect x="601" y="920" width="11" height="38" fill="#000"/>
<text x="518.96" y="882.05" font-size="16.01" font-weight="bold" fill="#000" textLength="71.15" lengthAdjust="spacingAndGlyphs">RED/BLK</text>
<text x="574.66" y="920.8" font-size="22.5" font-weight="bold" fill="#000">4</text>
<text x="526.44" y="947.05" font-size="16.36" font-weight="bold" fill="#000" textLength="59.67" lengthAdjust="spacingAndGlyphs">LT GRN</text>
<text x="536.02" y="787.05" font-size="21.75" font-weight="normal" fill="#000" textLength="137.85" lengthAdjust="spacingAndGlyphs" stroke="#000" stroke-width="0.45">See Dash and</text>
<text x="535.9" y="809.55" font-size="22.09" font-weight="normal" fill="#000" textLength="146.14" lengthAdjust="spacingAndGlyphs" stroke="#000" stroke-width="0.45">Console Lights</text>
<polygon points="781.5,899.5 776,905.5 776,909.3 779.5,909.5 785,904 790.5,904 796,909.5 799.5,909.3 800,906 793.5,899.5" fill="#000"/>
<polygon points="781.5,910.5 794.5,910.5 800,916.5 800,919.5 776,919.5 776,916.5" fill="#000"/>
<rect x="782" y="918" width="11" height="40" fill="#000"/>
<text x="754.33" y="910.8" font-size="22.5" font-weight="bold" fill="#000">5</text>
<text x="742.7" y="945.3" font-size="16.19" font-weight="bold" fill="#000" textLength="33.28" lengthAdjust="spacingAndGlyphs">BLU</text>
<line x1="618" y1="918" x2="1092.5" y2="915.2" stroke="#000" stroke-width="2" stroke-dasharray="16.5 8.5" stroke-dashoffset="0"/>
<path d="M549.4 960 L1193.9 957.2 L1193.9 1113.4 L549.4 1117.5 Z" fill="none" stroke="#000" stroke-width="5" stroke-linejoin="miter"/>
<text x="1207.69" y="968.3" font-size="22.46" font-weight="bold" fill="#000" textLength="38.67" lengthAdjust="spacingAndGlyphs">A/C</text>
<text x="1207.62" y="990.8" font-size="22.73" font-weight="bold" fill="#000" textLength="89.64" lengthAdjust="spacingAndGlyphs">SWITCH</text>
<line x1="607.5" y1="961" x2="607.5" y2="996" stroke="#000" stroke-width="2.8"/>
<path d="M597 1005.4 L607.3 995.6 L617.6 1005.4" fill="none" stroke="#000" stroke-width="2.9"/>
<circle cx="608" cy="1041.7" r="27.8" fill="none" stroke="#000" stroke-width="5.2"/>
<path d="M608 1015.9 V1026.7 L600.5 1030.7 V1050.7 L608 1054.7 V1067.5" fill="none" stroke="#000" stroke-width="2.8"/>
<ellipse cx="610.5" cy="1041.2" rx="6.2" ry="4" fill="none" stroke="#000" stroke-width="2.8"/>
<line x1="599" y1="1024.7" x2="602.5" y2="1020.7" stroke="#000" stroke-width="2.4"/>
<line x1="613.5" y1="1020.7" x2="617" y2="1024.7" stroke="#000" stroke-width="2.4"/>
<line x1="599" y1="1059.7" x2="603" y2="1063.7" stroke="#000" stroke-width="2.4"/>
<line x1="617" y1="1059.7" x2="613" y2="1063.7" stroke="#000" stroke-width="2.4"/>
<line x1="607.5" y1="1085" x2="607.5" y2="1116" stroke="#000" stroke-width="2.8"/>
<path d="M597.5 1076 L607.5 1085 L617.5 1076" fill="none" stroke="#000" stroke-width="2.9"/>
<text x="635.61" y="1012.8" font-size="21.42" font-weight="bold" fill="#000" textLength="120.2" lengthAdjust="spacingAndGlyphs">Illumination</text>
<line x1="790" y1="961" x2="790" y2="1097" stroke="#000" stroke-width="2.6"/>
<polygon points="781,1025 799,1025 790,1039" fill="#000"/>
<line x1="781" y1="1040" x2="799" y2="1040" stroke="#000" stroke-width="2.8"/>
<line x1="788.7" y1="1097" x2="930.5" y2="1097" stroke="#000" stroke-width="2.8"/>
<line x1="929.2" y1="975.9" x2="929.2" y2="994" stroke="#000" stroke-width="2.8"/>
<path d="M918.7 1002.5 L929 993.7 L939.3 1002.5" fill="none" stroke="#000" stroke-width="2.9"/>
<circle cx="929.4" cy="1038.4" r="27.8" fill="none" stroke="#000" stroke-width="5.2"/>
<path d="M929.4 1012.6 V1023.4 L921.9 1027.4 V1047.4 L929.4 1051.4 V1064.2" fill="none" stroke="#000" stroke-width="2.8"/>
<ellipse cx="931.9" cy="1037.9" rx="6.2" ry="4" fill="none" stroke="#000" stroke-width="2.8"/>
<line x1="920.4" y1="1021.4" x2="923.9" y2="1017.4" stroke="#000" stroke-width="2.4"/>
<line x1="934.9" y1="1017.4" x2="938.4" y2="1021.4" stroke="#000" stroke-width="2.4"/>
<line x1="920.4" y1="1056.4" x2="924.4" y2="1060.4" stroke="#000" stroke-width="2.4"/>
<line x1="938.4" y1="1056.4" x2="934.4" y2="1060.4" stroke="#000" stroke-width="2.4"/>
<path d="M919 1072.4 L929 1081.6 L939 1072.4" fill="none" stroke="#000" stroke-width="2.9"/>
<line x1="929.2" y1="1081.6" x2="929.2" y2="1098.4" stroke="#000" stroke-width="2.8"/>
<line x1="927.8" y1="975.9" x2="1103" y2="975.9" stroke="#000" stroke-width="2.8"/>
<circle cx="1103" cy="975.5" r="5" fill="#000"/>
<line x1="1103" y1="960" x2="1103" y2="1017" stroke="#000" stroke-width="2.6"/>
<circle cx="1103" cy="1017" r="5" fill="#000"/>
<line x1="1103" y1="1017" x2="1126" y2="1059.5" stroke="#000" stroke-width="3"/>
<circle cx="1126.25" cy="1059.5" r="5.5" fill="#000"/>
<circle cx="1082" cy="1060" r="5.5" fill="#000"/>
<line x1="1090" y1="1062" x2="1120" y2="1062" stroke="#000" stroke-width="2.6" stroke-dasharray="7 7" stroke-dashoffset="0"/>
<line x1="1082" y1="1060" x2="1082" y2="1113" stroke="#000" stroke-width="2.6"/>
<text x="1042.38" y="1065.8" font-size="15.5" font-weight="bold" fill="#000">ON</text>
<text x="1142.34" y="1065.8" font-size="16.38" font-weight="bold" fill="#000" textLength="32.76" lengthAdjust="spacingAndGlyphs">OFF</text>
<rect x="602.25" y="1115" width="11.5" height="70" fill="#000"/>
<polygon points="602,1192.5 615,1192.5 620.5,1186.5 620.5,1183 596.5,1183 596.5,1186.5" fill="#000"/>
<polygon points="602,1203 596.5,1197 596.5,1193.2 600,1193 605.5,1198.5 611,1198.5 616.5,1193 620,1193.2 620.5,1196.5 614,1203" fill="#000"/>
<rect x="602.75" y="1201" width="11.5" height="70" fill="#000"/>
<polygon points="596.8,1269.5 621.2,1269.5 609,1290" fill="#000"/>
<text x="554.33" y="1157.05" font-size="16.78" font-weight="bold" fill="#000" textLength="37.3" lengthAdjust="spacingAndGlyphs">GRN</text>
<text x="578.09" y="1199.55" font-size="22.5" font-weight="bold" fill="#000">1</text>
<text x="554.42" y="1242.05" font-size="16.56" font-weight="bold" fill="#000" textLength="34.97" lengthAdjust="spacingAndGlyphs">RED</text>
<text x="540.27" y="1319.55" font-size="21.83" font-weight="normal" fill="#000" textLength="138.36" lengthAdjust="spacingAndGlyphs" stroke="#000" stroke-width="0.45">See Dash and</text>
<text x="540.15" y="1342.8" font-size="22.05" font-weight="normal" fill="#000" textLength="145.88" lengthAdjust="spacingAndGlyphs" stroke="#000" stroke-width="0.45">Console Lights</text>
<line x1="620" y1="1185.8" x2="1075" y2="1183.3" stroke="#000" stroke-width="2" stroke-dasharray="16.5 8.5" stroke-dashoffset="0"/>
<rect x="1078.25" y="1115" width="11.5" height="67" fill="#000"/>
<polygon points="1078,1190 1091,1190 1096.5,1184 1096.5,1180.5 1072.5,1180.5 1072.5,1184" fill="#000"/>
<polygon points="1078,1201 1072.5,1195 1072.5,1191.2 1076,1191 1081.5,1196.5 1087,1196.5 1092.5,1191 1096,1191.2 1096.5,1194.5 1090,1201" fill="#000"/>
<rect x="1078.75" y="1199.5" width="11.5" height="66.5" fill="#000"/>
<polygon points="1078.5,1264.5 1073,1270.5 1073,1274.3 1076.5,1274.5 1082,1269 1087.5,1269 1093,1274.5 1096.5,1274.3 1097,1271 1090.5,1264.5" fill="#000"/>
<text x="1037.98" y="1153.8" font-size="15.64" font-weight="bold" fill="#000" textLength="32.14" lengthAdjust="spacingAndGlyphs">BLK</text>
<text x="1054.21" y="1206.3" font-size="22.5" font-weight="bold" fill="#000">6</text>
<text x="1104.59" y="1194.55" font-size="22.7" font-weight="bold" fill="#000" textLength="54.28" lengthAdjust="spacingAndGlyphs">C432</text>
<text x="1030.57" y="1233.3" font-size="16.9" font-weight="bold" fill="#000" textLength="37.56" lengthAdjust="spacingAndGlyphs">GRN</text>
<line x1="811.5" y1="1244.5" x2="1234.25" y2="1244.5" stroke="#000" stroke-width="4.5" stroke-dasharray="22.44 10.08" stroke-dashoffset="11.22"/>
<line x1="1232" y1="1242.25" x2="1232" y2="1480.25" stroke="#000" stroke-width="4.5" stroke-dasharray="23.46 10.54" stroke-dashoffset="11.73"/>
<line x1="1234.25" y1="1478" x2="811.5" y2="1478" stroke="#000" stroke-width="4.5" stroke-dasharray="22.44 10.08" stroke-dashoffset="11.22"/>
<line x1="813.75" y1="1480.25" x2="813.75" y2="1242.25" stroke="#000" stroke-width="4.5" stroke-dasharray="23.46 10.54" stroke-dashoffset="11.73"/>
<text x="1245.57" y="1254.55" font-size="22.01" font-weight="bold" fill="#000" textLength="88.86" lengthAdjust="spacingAndGlyphs">HEATER</text>
<text x="1246.11" y="1277.05" font-size="22.15" font-weight="bold" fill="#000" textLength="109.53" lengthAdjust="spacingAndGlyphs">CONTROL</text>
<text x="1245.58" y="1299.55" font-size="21.88" font-weight="bold" fill="#000" textLength="72.52" lengthAdjust="spacingAndGlyphs">PANEL</text>
<text x="1055.46" y="1272.05" font-size="22.5" font-weight="bold" fill="#000">6</text>
<text x="1103.62" y="1272.05" font-size="21.94" font-weight="bold" fill="#000" textLength="52.44" lengthAdjust="spacingAndGlyphs">C431</text>
<line x1="851.5" y1="1284.5" x2="1118.25" y2="1284.5" stroke="#000" stroke-width="4.5" stroke-dasharray="23.01 10.34" stroke-dashoffset="11.5"/>
<line x1="1116" y1="1282.25" x2="1116" y2="1441.75" stroke="#000" stroke-width="4.5" stroke-dasharray="22.01 9.89" stroke-dashoffset="11.01"/>
<line x1="1118.25" y1="1439.5" x2="851.5" y2="1439.5" stroke="#000" stroke-width="4.5" stroke-dasharray="23.01 10.34" stroke-dashoffset="11.5"/>
<line x1="853.75" y1="1441.75" x2="853.75" y2="1282.25" stroke="#000" stroke-width="4.5" stroke-dasharray="22.01 9.89" stroke-dashoffset="11.01"/>
<text x="1128.56" y="1295.8" font-size="22.22" font-weight="bold" fill="#000" textLength="44.45" lengthAdjust="spacingAndGlyphs">FAN</text>
<text x="1129.38" y="1318.3" font-size="22.73" font-weight="bold" fill="#000" textLength="89.64" lengthAdjust="spacingAndGlyphs">SWITCH</text>
<path d="M1075.5 1292.38 L1084.5 1285 L1093.5 1292.38" fill="none" stroke="#000" stroke-width="2.2"/>
<line x1="1084.5" y1="1285" x2="1084.5" y2="1376" stroke="#000" stroke-width="2.2"/>
<circle cx="1084" cy="1375.5" r="6" fill="#000"/>
<line x1="1049.5" y1="1376.5" x2="1084.5" y2="1376.5" stroke="#000" stroke-width="2.2"/>
<path d="M940 1347.5 C962 1334 1015 1326 1046 1376" fill="none" stroke="#000" stroke-width="9" stroke-linecap="round"/>
<line x1="930" y1="1356.5" x2="938" y2="1350" stroke="#000" stroke-width="2.2"/>
<line x1="918.9" y1="1369.4" x2="923.3" y2="1361.4" stroke="#000" stroke-width="2.2"/>
<text x="939.09" y="1371.1" font-size="14.5" font-weight="bold" fill="#000">1</text>
<text x="971.98" y="1366.8" font-size="16" font-weight="bold" fill="#000">2</text>
<text x="1004.15" y="1371.1" font-size="15.5" font-weight="bold" fill="#000">3</text>
<text x="1027.27" y="1392.1" font-size="15.5" font-weight="bold" fill="#000">4</text>
<text x="872.62" y="1380.8" font-size="15.86" font-weight="bold" fill="#000" textLength="31.72" lengthAdjust="spacingAndGlyphs">OFF</text>
<circle cx="914.5" cy="1374.5" r="5.5" fill="#000"/>
<line x1="914.5" y1="1374.5" x2="982.8" y2="1412.3" stroke="#000" stroke-width="3"/>
<circle cx="927.6" cy="1382" r="3.2" fill="#000"/>
<circle cx="982.5" cy="1412.5" r="5.5" fill="#000"/>
<line x1="982.5" y1="1412.5" x2="982.5" y2="1438.5" stroke="#000" stroke-width="2.2"/>
<path d="M973.5 1430.4 L982.5 1438.5 L991.5 1430.4" fill="none" stroke="#000" stroke-width="2.2"/>
<polygon points="975.75,1458 970.25,1452 970.25,1448.2 973.75,1448 979.25,1453.5 984.75,1453.5 990.25,1448 993.75,1448.2 994.25,1451.5 987.75,1458" fill="#000"/>
<text x="950.58" y="1465.3" font-size="22.5" font-weight="bold" fill="#000">5</text>
<text x="1003.61" y="1465.3" font-size="22.26" font-weight="bold" fill="#000" textLength="53.21" lengthAdjust="spacingAndGlyphs">C431</text>
<rect x="976.25" y="1456" width="11.5" height="62.75" fill="#000"/>
<rect x="976.25" y="1523.75" width="11.5" height="41.25" fill="#000"/>
<rect x="976.25" y="1570" width="11.5" height="41" fill="#000"/>
<polygon points="976,1610 970.5,1616 970.5,1619.8 974,1620 979.5,1614.5 985,1614.5 990.5,1620 994,1619.8 994.5,1616.5 988,1610" fill="#000"/>
<text x="936.98" y="1505.8" font-size="15.64" font-weight="bold" fill="#000" textLength="32.14" lengthAdjust="spacingAndGlyphs">BLK</text>
<text x="936.98" y="1596.3" font-size="15.64" font-weight="bold" fill="#000" textLength="32.14" lengthAdjust="spacingAndGlyphs">BLK</text>
<text x="1025.27" y="1523.3" font-size="21.76" font-weight="normal" fill="#000" textLength="117.34" lengthAdjust="spacingAndGlyphs" stroke="#000" stroke-width="0.45">See Ground</text>
<text x="1024.55" y="1548.3" font-size="21.28" font-weight="normal" fill="#000" textLength="112.37" lengthAdjust="spacingAndGlyphs" stroke="#000" stroke-width="0.45">Distribution.</text>
<line x1="937.75" y1="1629.5" x2="1032.75" y2="1629.5" stroke="#000" stroke-width="4.5" stroke-dasharray="21.85 9.82" stroke-dashoffset="10.92"/>
<line x1="1030.5" y1="1627.25" x2="1030.5" y2="1734.25" stroke="#000" stroke-width="4.5" stroke-dasharray="24.61 11.06" stroke-dashoffset="12.3"/>
<line x1="1032.75" y1="1732" x2="937.75" y2="1732" stroke="#000" stroke-width="4.5" stroke-dasharray="21.85 9.82" stroke-dashoffset="10.92"/>
<line x1="940" y1="1734.25" x2="940" y2="1627.25" stroke="#000" stroke-width="4.5" stroke-dasharray="24.61 11.06" stroke-dashoffset="12.3"/>
<path d="M973.5 1639.38 L982.5 1632 L991.5 1639.38" fill="none" stroke="#000" stroke-width="2.2"/>
<line x1="982.5" y1="1632" x2="982.5" y2="1728" stroke="#000" stroke-width="2.2"/>
<path d="M975 1729.5 a7.5 7.5 0 0 1 15 0 v7 h-15 z" fill="#000"/>
<line x1="968" y1="1738.5" x2="997" y2="1738.5" stroke="#000" stroke-width="2.2"/>
<line x1="974" y1="1744" x2="991" y2="1744" stroke="#000" stroke-width="2.2"/>
<line x1="978.5" y1="1749.5" x2="986.5" y2="1749.5" stroke="#000" stroke-width="2.2"/>
<text x="1015.4" y="1756.3" font-size="21.32" font-weight="bold" fill="#000" textLength="52.17" lengthAdjust="spacingAndGlyphs">G201</text>
<rect x="770" y="85.7" width="1.3" height="3" fill="#000"/>
</svg>
</body></html>
